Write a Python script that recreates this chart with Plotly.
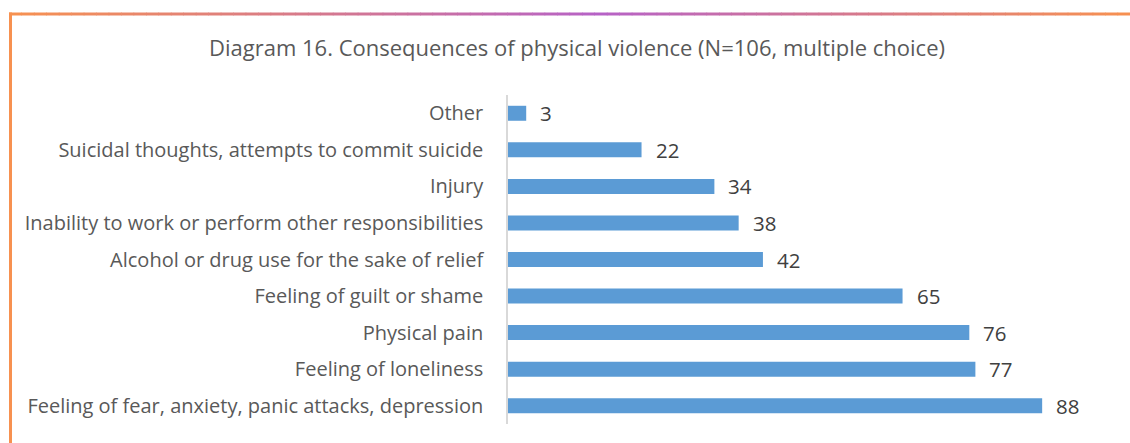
import plotly.graph_objects as go

# Consequences of physical violence, top to bottom
categories = [
    "Other",
    "Suicidal thoughts, attempts to commit suicide",
    "Injury",
    "Inability to work or perform other responsibilities",
    "Alcohol or drug use for the sake of relief",
    "Feeling of guilt or shame",
    "Physical pain",
    "Feeling of loneliness",
    "Feeling of fear, anxiety, panic attacks, depression",
]
counts = [3, 22, 34, 38, 42, 65, 76, 77, 88]

title_text = "Diagram 16. Consequences of physical violence (N=106, multiple choice)"

W, H = 1130, 443
ML, MR, MT, MB = 508, 15, 95, 19
FONT = "'Open Sans', Lato, sans-serif"
BAR_BLUE = "#5B9BD5"
TEXT_GREY = "#595959"

fig = go.Figure(
    go.Bar(
        x=counts,
        y=categories,
        orientation="h",
        marker=dict(color=BAR_BLUE, line=dict(width=0)),
        hoverinfo="x+y",
    )
)

# value labels just right of each bar
for cat, val in zip(categories, counts):
    fig.add_annotation(
        x=val, y=cat, xref="x", yref="y",
        text=str(val), showarrow=False,
        xanchor="left", yanchor="middle", xshift=12,
        font=dict(family=FONT, size=20.5, color="#404040"),
    )


def px_to_paper_x(px):
    return (px - ML) / (W - ML - MR)


def px_to_paper_y(py):
    return 1 - (py - MT) / (H - MT - MB)


def lerp_hex(c1, c2, t):
    a = [int(c1[i:i + 2], 16) for i in (1, 3, 5)]
    b = [int(c2[i:i + 2], 16) for i in (1, 3, 5)]
    return "#" + "".join(f"{round(a[k] + (b[k] - a[k]) * t):02x}" for k in range(3))


# frame: gradient top rule (orange -> purple -> orange) and orange left rule
ORANGE = "#F79150"
PURPLE = "#B662C6"
x_start, x_end, x_mid = 9, 1130, 600
n_seg = 90
top_y = px_to_paper_y(14)
for i in range(n_seg):
    p0 = x_start + (x_end - x_start) * i / n_seg
    p1 = x_start + (x_end - x_start) * (i + 1) / n_seg
    pc = (p0 + p1) / 2
    if pc < x_mid:
        col = lerp_hex(ORANGE, PURPLE, (pc - x_start) / (x_mid - x_start))
    else:
        col = lerp_hex(PURPLE, ORANGE, (pc - x_mid) / (x_end - x_mid))
    fig.add_shape(
        type="line", xref="paper", yref="paper",
        x0=px_to_paper_x(p0), x1=px_to_paper_x(p1) + 0.001,
        y0=top_y, y1=top_y,
        line=dict(color=col, width=3), layer="above",
    )
fig.add_shape(
    type="line", xref="paper", yref="paper",
    x0=px_to_paper_x(10.5), x1=px_to_paper_x(10.5),
    y0=px_to_paper_y(12.5), y1=px_to_paper_y(H + 5),
    line=dict(color=ORANGE, width=3), layer="above",
)

fig.update_layout(
    width=W, height=H,
    margin=dict(l=ML, r=MR, t=MT, b=MB, pad=0),
    paper_bgcolor="white",
    plot_bgcolor="white",
    bargap=0.59,
    showlegend=False,
    title=dict(
        text=title_text,
        x=px_to_paper_x(577), xref="paper", xanchor="center",
        y=1 - 48 / H, yref="container", yanchor="middle",
        font=dict(family=FONT, size=22, color=TEXT_GREY),
    ),
    xaxis=dict(
        range=[0, 100],
        showgrid=False, zeroline=False, showline=False,
        showticklabels=False, ticks="",
        fixedrange=True,
    ),
    yaxis=dict(
        autorange="reversed",
        showgrid=False, zeroline=False,
        showline=True, linecolor="#D9D9D9", linewidth=1.5,
        ticks="", ticklabelstandoff=19,
        tickfont=dict(family=FONT, size=20, color=TEXT_GREY),
        fixedrange=True,
    ),
)

fig.write_html("out.html")
